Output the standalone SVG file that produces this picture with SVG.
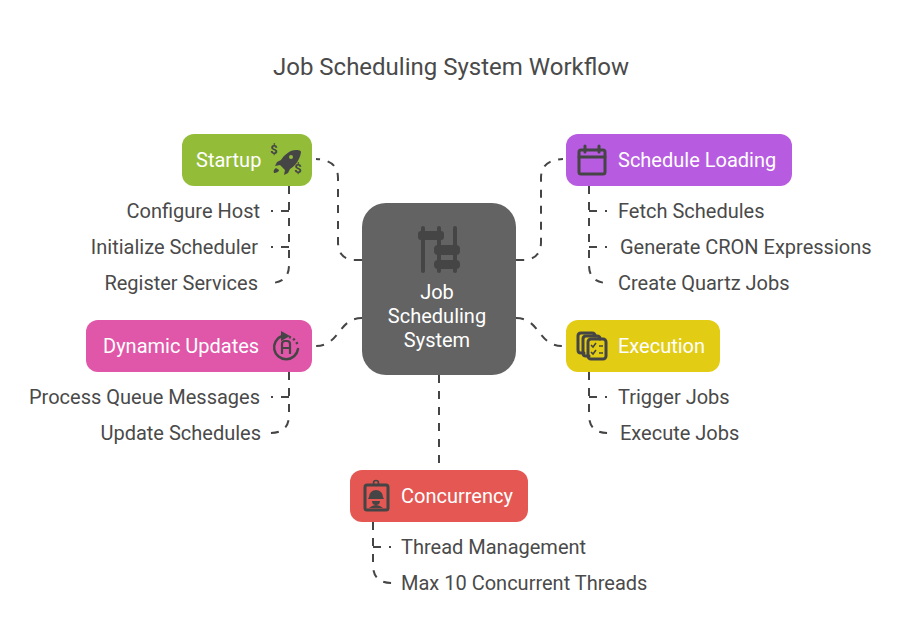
<svg xmlns="http://www.w3.org/2000/svg" width="902" height="644" viewBox="0 0 902 644">
<style>
text{font-family:Roboto,"Liberation Sans",sans-serif}
.t{font-size:24px;fill:#4a4a4a;text-anchor:middle}
.n{font-size:20px;fill:#fff}
.c{font-size:20px;fill:#fff;text-anchor:middle}
.l{font-size:20px;fill:#4a4a4a}
.e{text-anchor:end}
.d{fill:none;stroke:#454545;stroke-width:2;stroke-dasharray:8 8}
.i{fill:none;stroke:#454545;stroke-width:3;stroke-linecap:round;stroke-linejoin:round}
.f{fill:#454545}
</style>
<rect width="902" height="644" fill="#fff"/>
<text class="t" x="451" y="75">Job Scheduling System Workflow</text>
<g id="connectors">
<path class="d" d="M362 260H356Q338 260 338 242V178Q338 160 316 159"/>
<path class="d" d="M516 260H522Q541 260 541 242V178Q541 160 563 159"/>
<path class="d" d="M362 318C338 318 340 346 316 346"/>
<path class="d" d="M516 318C540 318 538 346 562 346"/>
<path class="d" d="M439 375V470"/>
<path class="d" d="M289 186V265Q289 283 270 283"/>
<path class="d" d="M289 211H271M289 247H271"/>
<path class="d" d="M589 186V265Q589 283 608 283"/>
<path class="d" d="M589 211H607M589 247H607"/>
<path class="d" d="M289 372V415Q289 433 270 433"/>
<path class="d" d="M289 397H271"/>
<path class="d" d="M589 372V415Q589 433 608 433"/>
<path class="d" d="M589 397H607"/>
<path class="d" d="M373 522V565Q373 583 392 583"/>
<path class="d" d="M373 547H391"/>
</g>
<g id="center">
<rect x="362" y="203" width="154" height="172" rx="24" fill="#636363"/>
<g fill="#454545">
<rect x="421" y="226" width="4" height="47" rx="2"/>
<rect x="437" y="226" width="4" height="47" rx="2"/>
<rect x="453" y="226" width="4" height="47" rx="2"/>
<rect x="418" y="231" width="26" height="9" rx="3"/>
<rect x="434" y="245" width="26" height="10" rx="4"/>
<rect x="434" y="260" width="26" height="9" rx="4"/>
</g>
<text class="c" x="437" y="299">Job</text>
<text class="c" x="437" y="323">Scheduling</text>
<text class="c" x="437" y="347">System</text>
</g>
<g id="startup">
<rect x="182" y="134" width="130" height="52" rx="12" fill="#93bd39"/>
<text class="n" x="196" y="167">Startup</text>
<path class="f" d="M296 150C290 150 284 155 281 160L277 162L275 166L280 165L285 170L284 175L288 173L290 169C295 166 300 160 301 152C301 151 300 150 296 150ZM276 168C274 169 273 171 274 173C276 173 279 172 279 170Z"/>
<circle cx="291" cy="157" r="2" fill="#93bd39"/>
<text x="274" y="154" font-size="13" font-weight="700" fill="#454545" text-anchor="middle">$</text>
<text x="298" y="173" font-size="13" font-weight="700" fill="#454545" text-anchor="middle">$</text>
</g>
<g id="schedule-loading">
<rect x="566" y="134" width="226" height="52" rx="12" fill="#b75be0"/>
<text class="n" x="618" y="167">Schedule Loading</text>
<rect x="579" y="150" width="26" height="24" rx="2" class="i"/>
<path class="i" d="M579 157H605M585 146V152M599 146V152" stroke-width="3"/>
</g>
<g id="dynamic-updates">
<rect x="86" y="320" width="226" height="52" rx="12" fill="#e056a9"/>
<text class="n" x="103" y="353">Dynamic Updates</text>
<path d="M282 336A12 12 0 1 0 298 349" fill="none" stroke="#454545" stroke-width="2.5" stroke-linecap="round"/>
<path d="M289 337A12 12 0 0 1 298 346" fill="none" stroke="#454545" stroke-width="2.5" stroke-dasharray="2 2.5"/>
<path class="f" d="M281 331L290 336L281 341Z"/>
<path d="M282 354V344Q282 341 285 341H287Q290 341 290 344V354M282 348H290" fill="none" stroke="#454545" stroke-width="2.2"/>
</g>
<g id="execution">
<rect x="566" y="320" width="154" height="52" rx="12" fill="#e2cc14"/>
<text class="n" x="618" y="353">Execution</text>
<path class="i" d="M584 353H581Q578 353 578 350V336Q578 333 581 333H592Q595 333 595 336"/>
<path class="i" d="M589 356H586Q583 356 583 353V339Q583 336 586 336H597Q600 336 600 339"/>
<rect x="588" y="339" width="18" height="20" rx="3" class="i" fill="#e2cc14"/>
<path d="M591 345L593 347L596 343M591 352L593 354L596 350M599 346H603M599 353H603" fill="none" stroke="#454545" stroke-width="1.6"/>
</g>
<g id="concurrency">
<rect x="350" y="470" width="178" height="52" rx="12" fill="#e55753"/>
<text class="n" x="401" y="503">Concurrency</text>
<rect x="365" y="485" width="23" height="25" rx="2" class="i" stroke-width="2.5"/>
<circle cx="376" cy="483" r="2.5" fill="none" stroke="#454545" stroke-width="1.6"/>
<path class="f" d="M369 497A7 7 0 0 1 383 497L384 499H368ZM372 501H380A4 4 0 0 1 372 501ZM369 508Q376 502 383 508Z"/>
</g>
<g id="labels">
<text class="l e" x="260" y="218">Configure Host</text>
<text class="l e" x="258" y="254">Initialize Scheduler</text>
<text class="l e" x="258" y="290">Register Services</text>
<text class="l" x="618" y="218">Fetch Schedules</text>
<text class="l" x="620" y="254">Generate CRON Expressions</text>
<text class="l" x="618" y="290">Create Quartz Jobs</text>
<text class="l e" x="260" y="404">Process Queue Messages</text>
<text class="l e" x="261" y="440">Update Schedules</text>
<text class="l" x="618" y="404">Trigger Jobs</text>
<text class="l" x="620" y="440">Execute Jobs</text>
<text class="l" x="401" y="554">Thread Management</text>
<text class="l" x="401" y="590">Max 10 Concurrent Threads</text>
</g>
</svg>
